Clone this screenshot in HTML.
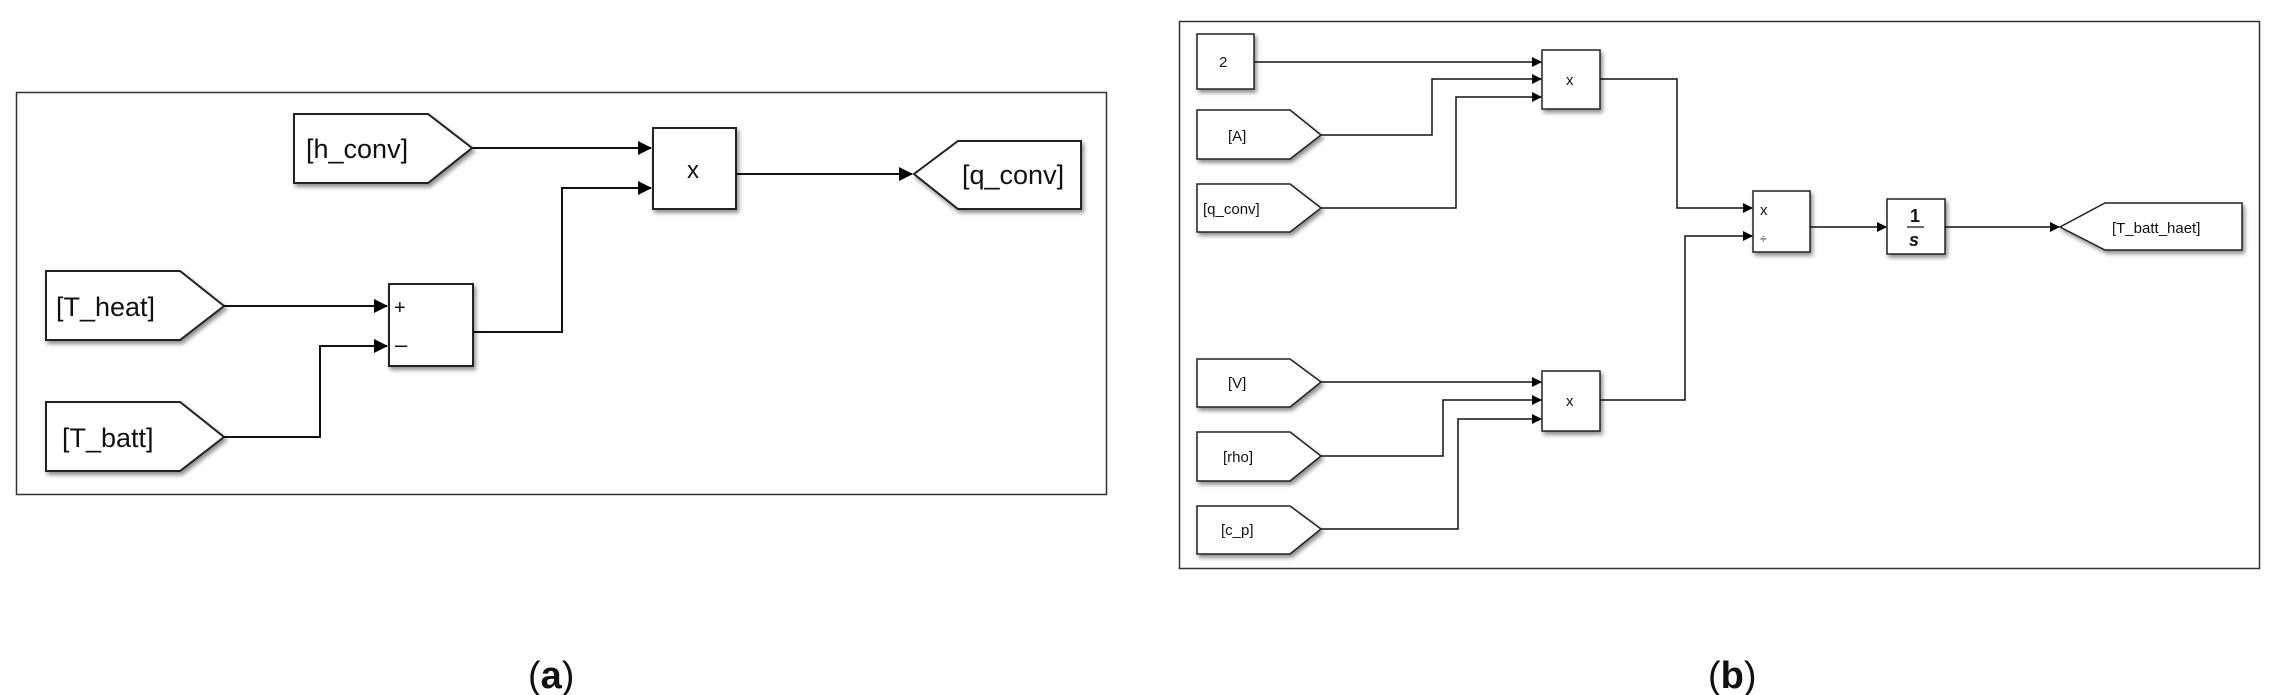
<!DOCTYPE html>
<html><head><meta charset="utf-8"><style>
html,body{margin:0;padding:0;background:#fff;}
svg{display:block;}
text{font-family:"Liberation Sans",sans-serif;fill:#111;}
</style></head><body>
<svg width="2291" height="695" viewBox="0 0 2291 695" xmlns="http://www.w3.org/2000/svg">
<defs>
<filter id="sh" x="-20%" y="-20%" width="150%" height="150%">
<feDropShadow dx="2" dy="3" stdDeviation="2" flood-color="#000" flood-opacity="0.45"/>
</filter>
<marker id="ar" markerWidth="10" markerHeight="10" refX="9" refY="5" orient="auto" markerUnits="userSpaceOnUse">
<path d="M0,0 L10,5 L0,10 z" fill="#000"/>
</marker>
<marker id="ar2" markerWidth="14" markerHeight="14" refX="13" refY="7" orient="auto" markerUnits="userSpaceOnUse">
<path d="M0,0 L14,7 L0,14 z" fill="#000"/>
</marker>
</defs>

<!-- Panel a -->
<rect x="16.5" y="92.5" width="1090" height="402" fill="#fff" stroke="#333" stroke-width="1.5"/>
<g fill="#fff" stroke="#222" stroke-width="2" filter="url(#sh)">
<polygon points="294,114 428,114 472,148 428,183 294,183"/>
<rect x="653" y="128" width="83" height="81"/>
<polygon points="1081,141 958,141 914,174 958,209 1081,209"/>
<polygon points="46,271 180,271 224,306 180,340 46,340"/>
<rect x="389" y="284" width="84" height="82"/>
<polygon points="46,402 180,402 224,437 180,471 46,471"/>
</g>
<g fill="none" stroke="#111" stroke-width="2">
<polyline points="472,148 651,148" marker-end="url(#ar2)"/>
<polyline points="473,332 562,332 562,188 651,188" marker-end="url(#ar2)"/>
<polyline points="736,174 912,174" marker-end="url(#ar2)"/>
<polyline points="224,306 387,306" marker-end="url(#ar2)"/>
<polyline points="224,437 320,437 320,346 387,346" marker-end="url(#ar2)"/>
</g>
<g font-size="27">
<text x="306" y="158">[h_conv]</text>
<text x="687" y="178" font-size="24">x</text>
<text x="962" y="184">[q_conv]</text>
<text x="56" y="316">[T_heat]</text>
<text x="62" y="447">[T_batt]</text>
</g>
<text x="394" y="314" font-size="20">+</text>
<text x="395" y="352" font-size="22">–</text>

<!-- Panel b -->
<rect x="1179.5" y="21.5" width="1080" height="547" fill="#fff" stroke="#333" stroke-width="1.5"/>
<g fill="#fff" stroke="#222" stroke-width="1.5" filter="url(#sh)">
<rect x="1197" y="34" width="57" height="55"/>
<polygon points="1197,110 1290,110 1321,135 1290,159 1197,159"/>
<polygon points="1197,184 1290,184 1321,208 1290,232 1197,232"/>
<rect x="1542" y="50" width="58" height="59"/>
<rect x="1753" y="191" width="57" height="61"/>
<rect x="1887" y="199" width="58" height="55"/>
<polygon points="2242,203 2105,203 2060,227 2105,250 2242,250"/>
<polygon points="1197,359 1290,359 1321,382 1290,407 1197,407"/>
<rect x="1542" y="371" width="58" height="60"/>
<polygon points="1197,432 1290,432 1321,456 1290,481 1197,481"/>
<polygon points="1197,506 1290,506 1321,529 1290,554 1197,554"/>
</g>
<g fill="none" stroke="#111" stroke-width="1.5">
<polyline points="1254,62 1541,62" marker-end="url(#ar)"/>
<polyline points="1321,135 1432,135 1432,79 1541,79" marker-end="url(#ar)"/>
<polyline points="1321,208 1456,208 1456,97 1541,97" marker-end="url(#ar)"/>
<polyline points="1600,79 1677,79 1677,208 1752,208" marker-end="url(#ar)"/>
<polyline points="1600,400 1685,400 1685,236 1752,236" marker-end="url(#ar)"/>
<polyline points="1810,227 1886,227" marker-end="url(#ar)"/>
<polyline points="1945,227 2059,227" marker-end="url(#ar)"/>
<polyline points="1321,382 1541,382" marker-end="url(#ar)"/>
<polyline points="1321,456 1443,456 1443,400 1541,400" marker-end="url(#ar)"/>
<polyline points="1321,529 1458,529 1458,419 1541,419" marker-end="url(#ar)"/>
</g>
<g font-size="15">
<text x="1219" y="67">2</text>
<text x="1228" y="141">[A]</text>
<text x="1203" y="214">[q_conv]</text>
<text x="1566" y="85">x</text>
<text x="1760" y="215">x</text>
<text x="1760" y="243" font-size="12">÷</text>
<text x="2112" y="233">[T_batt_haet]</text>
<text x="1228" y="388">[V]</text>
<text x="1566" y="406">x</text>
<text x="1223" y="462">[rho]</text>
<text x="1221" y="535">[c_p]</text>
</g>
<text x="1910" y="222" font-family="Liberation Serif" font-size="18" font-weight="bold">1</text>
<line x1="1907" y1="227" x2="1924" y2="227" stroke="#111" stroke-width="1.2"/>
<text x="1909" y="246" font-family="Liberation Serif" font-size="18" font-style="italic" font-weight="bold">s</text>

<text x="528" y="688" font-family="Liberation Serif" font-size="38">(<tspan font-weight="bold">a</tspan>)</text>
<text x="1708" y="688" font-family="Liberation Serif" font-size="38">(<tspan font-weight="bold">b</tspan>)</text>
</svg>
</body></html>
